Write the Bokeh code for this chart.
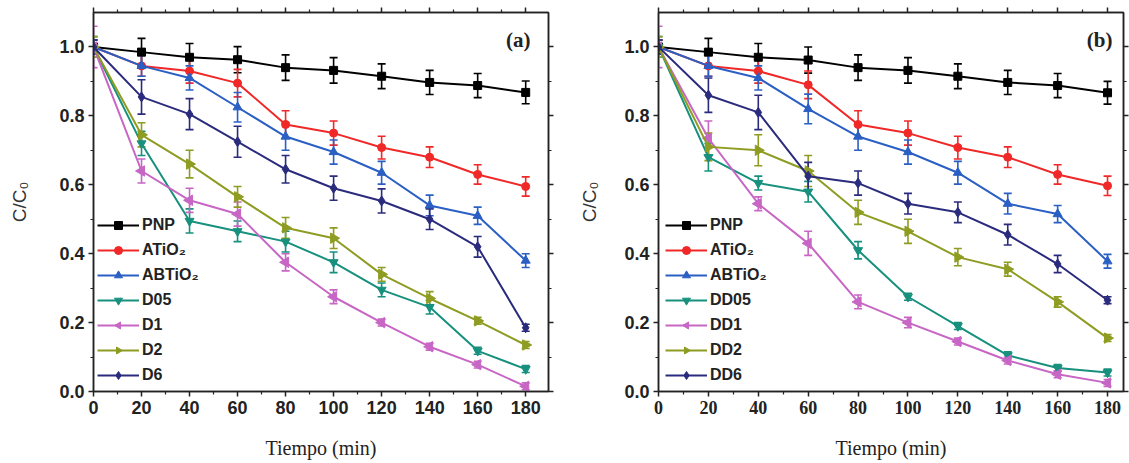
import math
from bokeh.plotting import figure
from bokeh.models import (Range1d, LinearAxis, Legend, LegendItem, Whisker, TeeHead,
                          ColumnDataSource, Label, FixedTicker, PrintfTickFormatter)
from bokeh.layouts import row
from bokeh.embed import file_html
from bokeh.resources import INLINE

time_min = [0, 20, 40, 60, 80, 100, 120, 140, 160, 180]

# ---- panel (a) ----
a_names = ["PNP", "ATiO₂", "ABTiO₂", "D05", "D1", "D2", "D6"]
a_pnp    = [1.0, 0.985, 0.970, 0.963, 0.940, 0.932, 0.915, 0.897, 0.888, 0.868]
a_atio2  = [1.0, 0.945, 0.930, 0.895, 0.775, 0.750, 0.708, 0.680, 0.630, 0.595]
a_abtio2 = [1.0, 0.945, 0.910, 0.825, 0.740, 0.695, 0.635, 0.540, 0.510, 0.380]
a_d05    = [1.0, 0.720, 0.495, 0.465, 0.435, 0.375, 0.295, 0.245, 0.118, 0.065]
a_d1     = [1.0, 0.640, 0.555, 0.515, 0.375, 0.275, 0.200, 0.130, 0.078, 0.015]
a_d2     = [1.0, 0.745, 0.660, 0.565, 0.475, 0.445, 0.340, 0.270, 0.205, 0.135]
a_d6     = [1.0, 0.855, 0.805, 0.725, 0.645, 0.590, 0.553, 0.500, 0.420, 0.185]

a_err_pnp    = [0.02, 0.04, 0.04, 0.038, 0.037, 0.037, 0.036, 0.035, 0.035, 0.033]
a_err_atio2  = [0.02, 0.03, 0.035, 0.04, 0.04, 0.035, 0.033, 0.03, 0.028, 0.028]
a_err_abtio2 = [0.02, 0.03, 0.035, 0.043, 0.04, 0.035, 0.033, 0.03, 0.025, 0.02]
a_err_d05    = [0.03, 0.035, 0.035, 0.03, 0.03, 0.03, 0.02, 0.02, 0.01, 0.01]
a_err_d1     = [0.06, 0.035, 0.035, 0.035, 0.025, 0.02, 0.01, 0.01, 0.01, 0.01]
a_err_d2     = [0.03, 0.035, 0.04, 0.03, 0.03, 0.03, 0.02, 0.02, 0.01, 0.01]
a_err_d6     = [0.02, 0.05, 0.045, 0.045, 0.04, 0.035, 0.035, 0.03, 0.03, 0.01]

# ---- panel (b) ----
b_names = ["PNP", "ATiO₂", "ABTiO₂", "DD05", "DD1", "DD2", "DD6"]
b_pnp    = [1.0, 0.985, 0.970, 0.962, 0.940, 0.932, 0.915, 0.897, 0.888, 0.867]
b_atio2  = [1.0, 0.945, 0.930, 0.890, 0.775, 0.750, 0.708, 0.680, 0.630, 0.597]
b_abtio2 = [1.0, 0.945, 0.910, 0.820, 0.740, 0.695, 0.635, 0.545, 0.515, 0.378]
b_dd05   = [1.0, 0.680, 0.605, 0.580, 0.410, 0.275, 0.190, 0.105, 0.068, 0.055]
b_dd1    = [1.0, 0.735, 0.545, 0.430, 0.260, 0.200, 0.145, 0.090, 0.050, 0.025]
b_dd2    = [1.0, 0.710, 0.700, 0.640, 0.520, 0.465, 0.390, 0.355, 0.260, 0.155]
b_dd6    = [1.0, 0.860, 0.810, 0.625, 0.605, 0.545, 0.520, 0.455, 0.370, 0.265]

b_err_pnp    = [0.02, 0.04, 0.04, 0.038, 0.037, 0.037, 0.036, 0.035, 0.035, 0.033]
b_err_atio2  = [0.02, 0.03, 0.035, 0.04, 0.04, 0.035, 0.033, 0.03, 0.028, 0.028]
b_err_abtio2 = [0.02, 0.03, 0.035, 0.043, 0.04, 0.035, 0.033, 0.03, 0.025, 0.02]
b_err_dd05   = [0.03, 0.04, 0.02, 0.03, 0.025, 0.01, 0.01, 0.01, 0.01, 0.01]
b_err_dd1    = [0.06, 0.05, 0.02, 0.035, 0.02, 0.015, 0.01, 0.01, 0.01, 0.01]
b_err_dd2    = [0.03, 0.04, 0.045, 0.045, 0.035, 0.035, 0.025, 0.02, 0.015, 0.01]
b_err_dd6    = [0.02, 0.05, 0.05, 0.04, 0.035, 0.03, 0.03, 0.03, 0.025, 0.01]

colors = ["#000000", "#f02828", "#2a5fc4", "#17907e", "#c766c4", "#8f9c22", "#2b2b7e"]
# marker kind: scatter marker name, or ("ngon", angle) for sideways triangles
markers = ["square", "circle", "triangle", "inverted_triangle",
           ("ngon", math.pi / 2), ("ngon", -math.pi / 2), "diamond"]
sizes = [8, 8, 9, 9, 9, 9, 10]

SANS = "Liberation Sans"
SERIF = "Liberation Serif"
AX_COLOR = "#222222"


def style_ticks(ax):
    ax.axis_line_width = 1.5
    ax.axis_line_color = AX_COLOR
    ax.major_tick_line_width = 1.5
    ax.major_tick_line_color = AX_COLOR
    ax.minor_tick_line_width = 1.2
    ax.minor_tick_line_color = AX_COLOR
    ax.major_tick_in = 0
    ax.major_tick_out = 5
    ax.minor_tick_in = 0
    ax.minor_tick_out = 3


def make_panel(names, series, errors, label, width, border_left, border_right,
               border_top, border_bottom, xmax, xtick_font, legend_loc, ylab_standoff):
    p = figure(width=width, height=463, output_backend="svg", toolbar_location=None,
               x_range=Range1d(0, xmax), y_range=Range1d(0, 1.1),
               min_border_left=border_left, min_border_right=border_right,
               min_border_top=border_top, min_border_bottom=border_bottom,
               x_axis_label="Tiempo (min)", y_axis_label="C/C₀")
    p.xgrid.visible = False
    p.ygrid.visible = False
    p.outline_line_color = AX_COLOR
    p.outline_line_width = 1.5
    p.background_fill_color = "white"
    p.border_fill_color = "white"

    x_ticks = [0, 20, 40, 60, 80, 100, 120, 140, 160, 180]
    x_minor = [10, 30, 50, 70, 90, 110, 130, 150, 170]
    y_ticks = [0.0, 0.2, 0.4, 0.6, 0.8, 1.0]
    y_minor = [0.1, 0.3, 0.5, 0.7, 0.9]

    xa = p.xaxis[0]
    ya = p.yaxis[0]
    xa.ticker = FixedTicker(ticks=x_ticks, minor_ticks=x_minor)
    ya.ticker = FixedTicker(ticks=y_ticks, minor_ticks=y_minor)
    for ax in (xa, ya):
        style_ticks(ax)
        ax.major_label_text_font_style = "bold"
        ax.major_label_text_font_size = "18px"
        ax.major_label_text_color = AX_COLOR
        ax.major_label_standoff = 4
    xa.major_label_text_font = xtick_font
    ya.major_label_text_font = SANS
    ya.formatter = PrintfTickFormatter(format="%.1f")
    xa.axis_label_text_font = SERIF
    xa.axis_label_text_font_style = "normal"
    xa.axis_label_text_font_size = "20px"
    xa.axis_label_text_color = AX_COLOR
    xa.axis_label_standoff = 20
    ya.axis_label_text_font = SANS
    ya.axis_label_text_font_style = "normal"
    ya.axis_label_text_font_size = "19px"
    ya.axis_label_text_color = "#333333"
    ya.axis_label_standoff = ylab_standoff

    # mirrored axes (top & right): ticks only, labels not drawn
    top = LinearAxis(ticker=FixedTicker(ticks=x_ticks, minor_ticks=x_minor))
    right = LinearAxis(ticker=FixedTicker(ticks=y_ticks, minor_ticks=y_minor))
    for ax, loc in ((top, "above"), (right, "right")):
        style_ticks(ax)
        ax.major_label_text_color = None
        ax.major_label_text_font_size = "1px"
        ax.major_label_standoff = 0
        p.add_layout(ax, loc)

    items = []
    for i, (name, ys, errs) in enumerate(zip(names, series, errors)):
        c = colors[i]
        mk = markers[i]
        src = ColumnDataSource(dict(x=time_min, y=ys,
                                    lo=[v - e for v, e in zip(ys, errs)],
                                    hi=[v + e for v, e in zip(ys, errs)]))
        w = Whisker(base="x", lower="lo", upper="hi", source=src,
                    line_color=c, line_width=1.6,
                    upper_head=TeeHead(size=8, line_color=c, line_width=1.6),
                    lower_head=TeeHead(size=8, line_color=c, line_width=1.6))
        p.add_layout(w)
        ln = p.line("x", "y", source=src, line_color=c, line_width=2)
        if isinstance(mk, tuple):
            try:
                sc = p.ngon("x", "y", source=src, radius=6, radius_units="screen",
                            n=3, angle=mk[1], fill_color=c, line_color=c)
            except Exception:
                sc = p.scatter("x", "y", source=src, marker="triangle",
                               size=sizes[i], fill_color=c, line_color=c)
        else:
            sc = p.scatter("x", "y", source=src, marker=mk,
                           size=sizes[i], fill_color=c, line_color=c)
        items.append(LegendItem(label=name, renderers=[ln, sc]))

    leg = Legend(items=items, location=legend_loc, orientation="vertical",
                 background_fill_alpha=0, border_line_alpha=0,
                 label_text_font=SANS, label_text_font_style="bold",
                 label_text_font_size="16px", label_text_color=AX_COLOR,
                 glyph_width=42, glyph_height=20, label_height=19,
                 label_standoff=3, spacing=5, padding=0, margin=0)
    p.add_layout(leg, "center")

    lab = Label(x=182, y=1.02, text=label, text_align="right", text_baseline="middle",
                text_font=SERIF, text_font_style="bold",
                text_font_size="21px", text_color=AX_COLOR)
    p.add_layout(lab)
    return p


pa = make_panel(a_names,
                [a_pnp, a_atio2, a_abtio2, a_d05, a_d1, a_d2, a_d6],
                [a_err_pnp, a_err_atio2, a_err_abtio2, a_err_d05, a_err_d1, a_err_d2, a_err_d6],
                "(a)", 570, 93, 22, 11, 72, 189.5, SANS, (4, 6), 26)
pb = make_panel(b_names,
                [b_pnp, b_atio2, b_abtio2, b_dd05, b_dd1, b_dd2, b_dd6],
                [b_err_pnp, b_err_atio2, b_err_abtio2, b_err_dd05, b_err_dd1, b_err_dd2, b_err_dd6],
                "(b)", 559, 88, 6, 12, 67, 186.4, SERIF, (7, 6), 21)

layout = row(pa, pb)
open("out.html", "w").write(file_html(layout, INLINE))
